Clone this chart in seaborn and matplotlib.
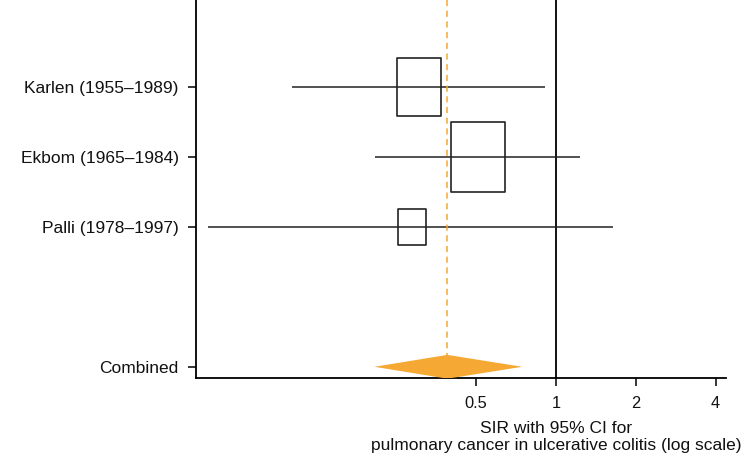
import numpy as np
import pandas as pd
import matplotlib
matplotlib.use("Agg")
import matplotlib.pyplot as plt
from matplotlib.path import Path
import seaborn as sns

# ---- data ----
studies = ["Karlen (1955\u20131989)", "Ekbom (1965\u20131984)", "Palli (1978\u20131997)"]
sir = [0.305, 0.51, 0.286]
ci_low = [0.101, 0.208, 0.049]
ci_high = [0.909, 1.23, 1.65]
weights = [35.0, 51.5, 13.5]  # percent

combined_label = "Combined"
combined_sir = 0.39
combined_low = 0.207
combined_high = 0.747

xticks = [0.5, 1, 2, 4]
xtick_labels = ["0.5", "1", "2", "4"]
xlabel = "SIR with 95% CI for\npulmonary cancer in ulcerative colitis (log scale)"

# ---- style ----
sns.set_style("ticks")
plt.rcParams["font.family"] = ["Liberation Sans", "DejaVu Sans"]
ORANGE = "#F5A833"

fig = plt.figure(figsize=(7.51, 4.58), dpi=100)
ax = fig.add_axes([0.261, 0.1747, 0.967 - 0.261, 1.0 - 0.1747])

pos = np.arange(len(studies))
comb_pos = len(studies) + 1
df = pd.DataFrame({"study": studies, "sir": sir, "lo": ci_low, "hi": ci_high,
                   "w": weights, "pos": pos})

# CI lines
ax.hlines(df["pos"], df["lo"], df["hi"], color="#222222", linewidth=1.1, zorder=2)

# weight boxes (area proportional to weight)
box = Path([(-0.385, -0.5), (0.385, -0.5), (0.385, 0.5), (-0.385, 0.5), (-0.385, -0.5)],
           [Path.MOVETO, Path.LINETO, Path.LINETO, Path.LINETO, Path.CLOSEPOLY])
k = 50.1
wmin, wmax = min(weights), max(weights)
sns.scatterplot(data=df, x="sir", y="pos", size="w", sizes=(wmin * k, wmax * k),
                size_norm=(wmin, wmax), marker=box, facecolor="none",
                edgecolor="#222222", linewidth=1.2, legend=False, ax=ax, zorder=3)

# reference line at 1
ax.axvline(1, color="black", linewidth=1.3, zorder=1)

# combined diamond
half = 0.17
ax.fill([combined_low, combined_sir, combined_high, combined_sir],
        [comb_pos, comb_pos - half, comb_pos, comb_pos + half],
        color=ORANGE, linewidth=0, zorder=3)

ylim_top = -1.24
ylim_bot = comb_pos + 0.16
ax.vlines(combined_sir, ylim_top, comb_pos - half, color=ORANGE, linewidth=1.1,
          linestyles=(0, (4, 3)), zorder=2)

ax.set_xscale("log", base=2)
ax.set_xlim(0.044, 4.39)
ax.set_ylim(ylim_bot, ylim_top)
ax.set_xticks(xticks)
ax.set_xticklabels(xtick_labels)
ax.minorticks_off()
ax.set_yticks(list(pos) + [comb_pos])
ax.set_yticklabels(studies + [combined_label])
ax.tick_params(axis="both", length=6, width=1.1, color="black", labelcolor="#111111")
ax.tick_params(axis="y", pad=6.5, labelsize=12.5)
ax.tick_params(axis="x", pad=7, labelsize=11.8)

ax.set_xlabel(xlabel, fontsize=12.5, color="#111111", linespacing=1.2)
ax.xaxis.set_label_coords(0.679, -0.113)

sns.despine(ax=ax, top=True, right=True)
for s in ("left", "bottom"):
    ax.spines[s].set_linewidth(1.3)
    ax.spines[s].set_color("black")
ax.set_ylabel("")

fig.savefig("out.png", dpi=100)
